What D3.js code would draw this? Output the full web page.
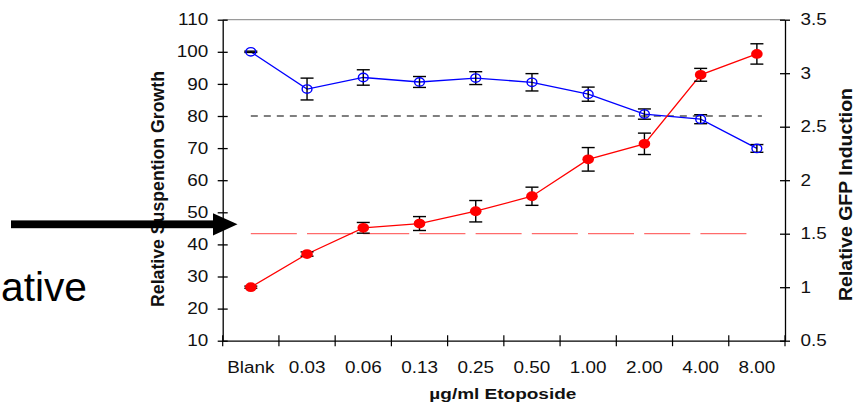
<!doctype html>
<html>
	<head>
		<script src="https://d3js.org/d3.v7.min.js"></script>
		<style>
			body { margin: 0; background: #fff; }
			svg { display: block; font-family: "Liberation Sans", Arial, sans-serif; }
		</style>
	</head>
	<body>
		<div id="chart"></div>
		<script>
            // chart data
            const doses = ["Blank", "0.03", "0.06", "0.13", "0.25", "0.50", "1.00", "2.00", "4.00", "8.00"];
            const growth = [100, 88.4, 92.0, 90.6, 91.8, 90.5, 86.8, 80.6, 79.0, 69.9];
            const growthErr = [0.2, 3.4, 2.4, 1.7, 2.0, 2.7, 2.2, 1.6, 1.4, 1.2];
            const gfp = [1.0, 1.31, 1.555, 1.595, 1.71, 1.85, 2.195, 2.34, 2.985, 3.18];
            const gfpErr = [0.01, 0.02, 0.05, 0.065, 0.10, 0.085, 0.11, 0.10, 0.06, 0.095];
            const leftTicks = [10, 20, 30, 40, 50, 60, 70, 80, 90, 100, 110];
            const rightTicks = [0.5, 1, 1.5, 2, 2.5, 3, 3.5];
            const growthRef = 80, gfpRef = 1.5;

            const width = 855, height = 403;
            const mLeft = 222.7, mRight = 785, mTop = 19.7, mBottom = 340.7;
            const stretch = 1.18; // the picture is widened a little

            const x = d3.scaleBand().domain(doses).range([mLeft, mRight]);
            const yL = d3.scaleLinear().domain([10, 110]).range([mBottom, mTop]);
            const yR = d3.scaleLinear().domain([0.5, 3.5]).range([mBottom, mTop]);

            const svg = d3.select("#chart")
                .append("svg")
                .attr("width", width)
                .attr("height", height);

            function cx(d, i) {
                return x(doses[i]) + x.bandwidth() / 2;
            }

            // top border of plot area
            svg.append("line")
                .attr("x1", mLeft).attr("x2", mRight)
                .attr("y1", mTop).attr("y2", mTop)
                .attr("stroke", "#9a9a9a")
                .attr("stroke-width", 1.2);

            // reference lines
            svg.append("line")
                .attr("x1", cx(0, 0)).attr("x2", cx(0, 9) + 5)
                .attr("y1", yL(growthRef)).attr("y2", yL(growthRef))
                .attr("stroke", "#000")
                .attr("stroke-width", 1.2)
                .attr("stroke-dasharray", "7,6");

            svg.append("line")
                .attr("x1", cx(0, 0)).attr("x2", cx(0, 9) - 4)
                .attr("y1", yR(gfpRef)).attr("y2", yR(gfpRef))
                .attr("stroke", "#ff6b6b")
                .attr("stroke-width", 1.3)
                .attr("stroke-dasharray", "46,10.2");

            // axes
            const axL = svg.append("g")
                .attr("transform", "translate(" + mLeft + ",0)")
                .call(d3.axisLeft(yL).tickValues(leftTicks).tickSize(5).tickSizeOuter(0).tickPadding(9.5));
            axL.selectAll(".tick line").attr("x1", 5);

            const axR = svg.append("g")
                .attr("transform", "translate(" + mRight + ",0)")
                .call(d3.axisRight(yR).tickValues(rightTicks).tickFormat(String).tickSize(5).tickSizeOuter(0).tickPadding(10.5));
            axR.selectAll(".tick line").attr("x1", -5);

            const axB = svg.append("g")
                .attr("transform", "translate(0," + mBottom + ")")
                .call(d3.axisBottom(x).tickSize(0).tickSizeOuter(0).tickPadding(20.5));

            axB.selectAll("line.bound")
                .data(d3.range(doses.length + 1))
                .enter().append("line")
                .attr("class", "bound")
                .attr("x1", function (d) { return mLeft + d * x.step(); })
                .attr("x2", function (d) { return mLeft + d * x.step(); })
                .attr("y1", -5.5)
                .attr("y2", 5.5)
                .attr("stroke", "#000")
                .attr("stroke-width", 1.2);

            svg.selectAll(".domain, .tick line")
                .attr("stroke", "#000")
                .attr("stroke-width", 1.3);
            svg.selectAll(".tick text")
                .attr("font-size", 16)
                .attr("font-family", "Liberation Sans, Arial, sans-serif")
                .attr("fill", "#111");

            // blue growth series (left axis)
            svg.append("path")
                .datum(growth)
                .attr("fill", "none")
                .attr("stroke", "#0000ff")
                .attr("stroke-width", 1.3)
                .attr("d", d3.line().x(cx).y(function (d) { return yL(d); }));

            // red GFP series (right axis)
            svg.append("path")
                .datum(gfp)
                .attr("fill", "none")
                .attr("stroke", "#ff0000")
                .attr("stroke-width", 1.3)
                .attr("d", d3.line().x(cx).y(function (d) { return yR(d); }));

            function errorBars(cls, vals, errs, y) {
                const g = svg.append("g").attr("class", cls);
                g.selectAll("line.stem")
                    .data(vals)
                    .enter().append("line")
                    .attr("class", "stem")
                    .attr("x1", cx).attr("x2", cx)
                    .attr("y1", function (d, i) { return y(d + errs[i]); })
                    .attr("y2", function (d, i) { return y(d - errs[i]); });
                g.selectAll("line.capHi")
                    .data(vals)
                    .enter().append("line")
                    .attr("class", "capHi")
                    .attr("x1", function (d, i) { return cx(d, i) - 6.5; })
                    .attr("x2", function (d, i) { return cx(d, i) + 6.5; })
                    .attr("y1", function (d, i) { return y(d + errs[i]); })
                    .attr("y2", function (d, i) { return y(d + errs[i]); });
                g.selectAll("line.capLo")
                    .data(vals)
                    .enter().append("line")
                    .attr("class", "capLo")
                    .attr("x1", function (d, i) { return cx(d, i) - 6.5; })
                    .attr("x2", function (d, i) { return cx(d, i) + 6.5; })
                    .attr("y1", function (d, i) { return y(d - errs[i]); })
                    .attr("y2", function (d, i) { return y(d - errs[i]); });
                g.selectAll("line")
                    .attr("stroke", "#000")
                    .attr("stroke-width", 1.4);
            }

            errorBars("err-gfp", gfp, gfpErr, yR);

            svg.selectAll("ellipse.gfp")
                .data(gfp)
                .enter().append("ellipse")
                .attr("class", "gfp")
                .attr("cx", cx)
                .attr("cy", function (d) { return yR(d); })
                .attr("rx", 5.8)
                .attr("ry", 4.9)
                .attr("fill", "#ff0000");

            errorBars("err-growth", growth, growthErr, yL);

            svg.selectAll("ellipse.growth")
                .data(growth)
                .enter().append("ellipse")
                .attr("class", "growth")
                .attr("cx", cx)
                .attr("cy", function (d) { return yL(d); })
                .attr("rx", 4.9)
                .attr("ry", 4.2)
                .attr("fill", "none")
                .attr("stroke", "#0000ff")
                .attr("stroke-width", 1.4);

            // titles
            svg.append("text")
                .attr("x", (mLeft + mRight) / 2 - 1)
                .attr("y", 398.5)
                .attr("text-anchor", "middle")
                .attr("font-size", 14.5)
                .attr("font-weight", "bold")
                .attr("textLength", 147)
                .attr("lengthAdjust", "spacingAndGlyphs")
                .attr("fill", "#111")
                .text("µg/ml Etoposide");

            svg.append("text")
                .attr("transform", "translate(163.5,189) rotate(-90) scale(1," + stretch + ")")
                .attr("text-anchor", "middle")
                .attr("font-size", 16)
                .attr("font-weight", "bold")
                .attr("textLength", 236)
                .attr("lengthAdjust", "spacingAndGlyphs")
                .attr("fill", "#111")
                .text("Relative Suspention Growth");

            svg.append("text")
                .attr("transform", "translate(852,194.5) rotate(-90) scale(1," + stretch + ")")
                .attr("text-anchor", "middle")
                .attr("font-size", 15)
                .attr("font-weight", "bold")
                .attr("textLength", 213)
                .attr("lengthAdjust", "spacingAndGlyphs")
                .attr("fill", "#111")
                .text("Relative GFP Induction");

            // cut-off slide word and pointer arrow on the left
            svg.append("text")
                .attr("x", 1)
                .attr("y", 301)
                .attr("font-size", 40)
                .attr("textLength", 86)
                .attr("lengthAdjust", "spacingAndGlyphs")
                .attr("fill", "#000")
                .text("ative");

            svg.append("rect")
                .attr("x", 11).attr("y", 220.4)
                .attr("width", 203).attr("height", 7.8)
                .attr("fill", "#000");
            svg.append("path")
                .attr("d", "M213,213.2L237.5,224.3L213,235.4Z")
                .attr("fill", "#000");

            // the picture is horizontally widened: stretch tick labels to match
            svg.selectAll(".tick text").each(function () {
                const len = this.getComputedTextLength();
                d3.select(this)
                    .attr("textLength", len * stretch)
                    .attr("lengthAdjust", "spacingAndGlyphs");
            });
		</script>
	</body>
</html>
